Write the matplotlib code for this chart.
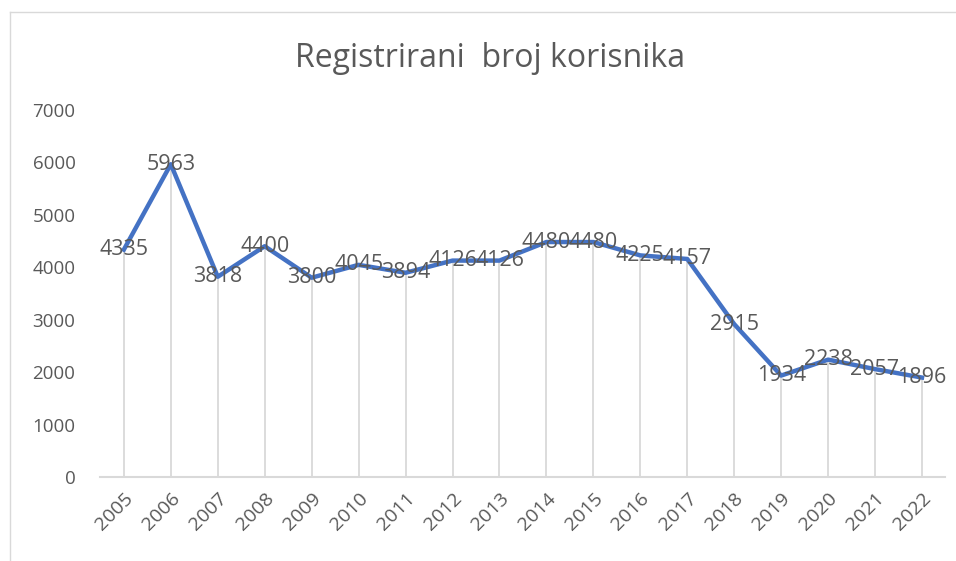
import matplotlib
matplotlib.use('Agg')
import matplotlib.pyplot as plt
from matplotlib.lines import Line2D

years = ['2005', '2006', '2007', '2008', '2009', '2010', '2011', '2012', '2013',
         '2014', '2015', '2016', '2017', '2018', '2019', '2020', '2021', '2022']
users = [4335, 5963, 3818, 4400, 3800, 4045, 3894, 4126, 4126,
         4480, 4480, 4225, 4157, 2915, 1934, 2238, 2057, 1896]
y_ticks = [0, 1000, 2000, 3000, 4000, 5000, 6000, 7000]

text_gray = '#595959'
plt.rcParams['font.family'] = ['Open Sans', 'DejaVu Sans']

fig = plt.figure(figsize=(9.56, 5.61), dpi=100)
ax = fig.add_axes([0.105, 0.1497, 0.884, 0.6545])

x = list(range(len(years)))
# drop lines from each point down to the axis
ax.vlines(x, 0, users, color='#D9D9D9', linewidth=1.3, zorder=1)
ax.plot(x, users, color='#4472C4', linewidth=3.2, solid_joinstyle='round', zorder=2)

for xi, v in zip(x, users):
    ax.text(xi, v, str(v), ha='center', va='center', fontsize=15.5,
            color=text_gray, zorder=3)

ax.set_xlim(-0.5, len(years) - 0.5)
ax.set_ylim(0, 7000)
ax.set_yticks(y_ticks)
ax.set_xticks(x)
ax.set_xticklabels(years, rotation=45, ha='right', rotation_mode='anchor')
ax.tick_params(axis='both', length=0, colors=text_gray)
ax.tick_params(axis='y', pad=18, labelsize=13.5)
ax.tick_params(axis='x', pad=9, labelsize=14)

for s in ['top', 'right', 'left']:
    ax.spines[s].set_visible(False)
ax.spines['bottom'].set_color('#D9D9D9')
ax.spines['bottom'].set_linewidth(1.5)

fig.text(0.513, 0.896, 'Registrirani  broj korisnika', ha='center', va='center',
         fontsize=23, color=text_gray)

# chart border (top and left edges visible)
fig.add_artist(Line2D([10 / 956, 10 / 956], [0, 1 - 12 / 561],
                      transform=fig.transFigure, color='#D9D9D9', linewidth=1))
fig.add_artist(Line2D([10 / 956, 1], [1 - 12 / 561, 1 - 12 / 561],
                      transform=fig.transFigure, color='#D9D9D9', linewidth=1))

plt.savefig('out.png', dpi=100)
